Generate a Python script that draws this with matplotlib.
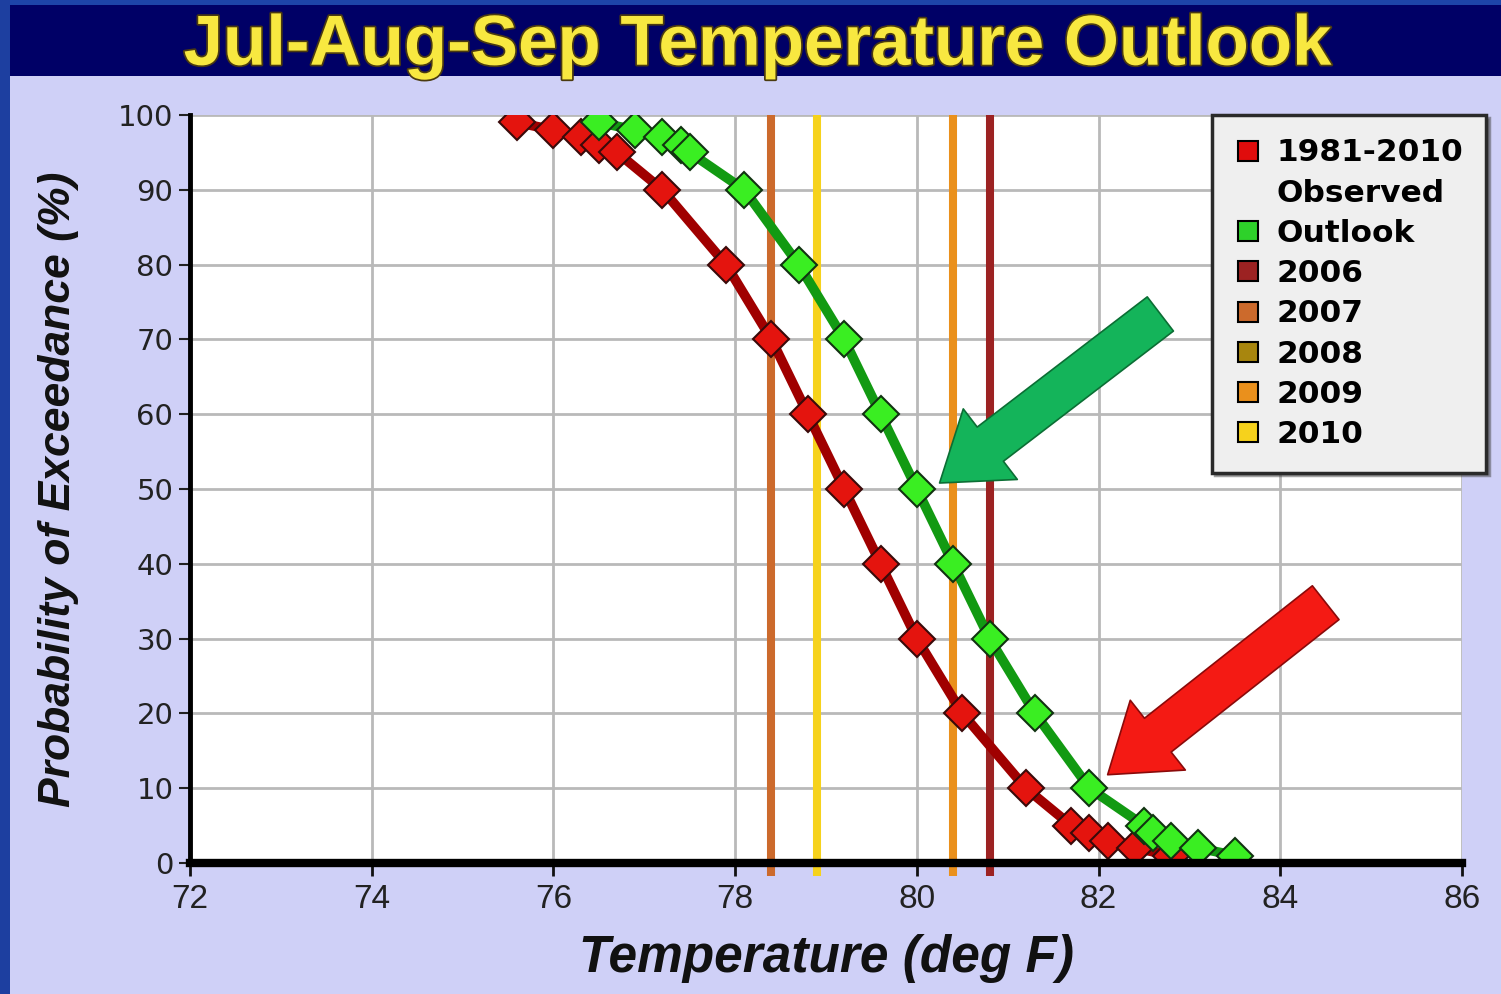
import matplotlib.pyplot as plt
import matplotlib.patheffects as pe
from matplotlib.lines import Line2D
from matplotlib.patches import FancyArrowPatch, ArrowStyle, Rectangle

# observed 1981-2010 exceedance curve
obs_temp = [75.6, 76.0, 76.3, 76.5, 76.7, 77.2, 77.9, 78.4, 78.8, 79.2, 79.6, 80.0,
            80.5, 81.2, 81.7, 81.9, 82.1, 82.4, 82.8]
obs_prob = [99, 98, 97, 96, 95, 90, 80, 70, 60, 50, 40, 30, 20, 10, 5, 4, 3, 2, 1]

# outlook exceedance curve
out_temp = [76.5, 76.9, 77.2, 77.4, 77.5, 78.1, 78.7, 79.2, 79.6, 80.0, 80.4, 80.8,
            81.3, 81.9, 82.5, 82.6, 82.8, 83.1, 83.5]
out_prob = [99, 98, 97, 96, 95, 90, 80, 70, 60, 50, 40, 30, 20, 10, 5, 4, 3, 2, 1]

# observed seasonal temps for recent years (2008 not visible on the chart)
years = ["2006", "2007", "2008", "2009", "2010"]
year_temp = [80.8, 78.4, None, 80.4, 78.9]
year_color = ["#9c2222", "#cc6a2c", "#a8860e", "#ea901c", "#f6d21c"]

x_ticks = [72, 74, 76, 78, 80, 82, 84, 86]
y_ticks = [0, 10, 20, 30, 40, 50, 60, 70, 80, 90, 100]

# annotation arrows (tail -> tip, data coords)
green_arrow = ((82.68, 73.4), (80.25, 50.8))
red_arrow = ((84.5, 34.8), (82.1, 11.8))

LAVENDER = "#cfd0f7"

fig = plt.figure(figsize=(15.01, 9.94), dpi=100, facecolor=LAVENDER)

# title banner
fig.patches.append(Rectangle((0, 0.924), 1, 0.076, transform=fig.transFigure,
                             facecolor="#000066", edgecolor="none", zorder=0))
fig.patches.append(Rectangle((0, 0.995), 1, 0.005, transform=fig.transFigure,
                             facecolor="#1d44a8", edgecolor="none", zorder=1))
fig.patches.append(Rectangle((0, 0), 0.0067, 1, transform=fig.transFigure,
                             facecolor="#1d3fa0", edgecolor="none", zorder=1))
fig.text(0.505, 0.953, "Jul-Aug-Sep Temperature Outlook", ha="center", va="center",
         fontsize=51, fontweight="bold", color="#f8e840", family="Liberation Sans",
         path_effects=[pe.withStroke(linewidth=2.5, foreground="#4a3a10")])

ax = fig.add_axes([0.1266, 0.1318, 0.8474, 0.7525])
ax.set_facecolor("white")

for yr, t, c in zip(years, year_temp, year_color):
    if t is not None:
        ax.vlines(t, -1.8, 100, color=c, linewidth=5.8, zorder=2, clip_on=False)

ax.plot(obs_temp, obs_prob, color="#a00000", linewidth=7, zorder=3,
        marker="D", markersize=18, markerfacecolor="#e4140e",
        markeredgecolor="#3a0a0a", markeredgewidth=1.5)
ax.plot(out_temp, out_prob, color="#129a12", linewidth=7, zorder=4,
        marker="D", markersize=18, markerfacecolor="#3aee22",
        markeredgecolor="#113311", markeredgewidth=1.5)

ax.set_xlim(72, 86)
ax.set_ylim(0, 100)
ax.set_xticks(x_ticks)
ax.set_yticks(y_ticks)
ax.grid(True, color="#b9b9b9", linewidth=2)
ax.set_axisbelow(True)

for s in ["top", "right"]:
    ax.spines[s].set_visible(False)
ax.spines["left"].set_linewidth(3.5)
ax.spines["bottom"].set_linewidth(6)
ax.spines["left"].set_zorder(5)
ax.spines["bottom"].set_zorder(5)

ax.tick_params(axis="y", length=8, width=1.5, color="#222222", pad=4,
               labelsize=21, labelcolor="#222222")
ax.tick_params(axis="x", length=9, width=2, color="#111111", pad=6,
               labelsize=24, labelcolor="#222222")
for lbl in ax.get_yticklabels():
    lbl.set_family("DejaVu Sans")
for lbl in ax.get_xticklabels():
    lbl.set_family("Liberation Sans")

ax.set_xlabel("Temperature (deg F)", fontsize=37, fontweight="bold", style="italic",
              family="Liberation Sans", color="#111111", labelpad=14)
ax.set_ylabel("Probability of Exceedance (%)", fontsize=32, fontweight="bold",
              style="italic", family="Liberation Sans", color="#111111", labelpad=28)

# arrows
for (tail, tip), fc, ec in [(green_arrow, "#14b45a", "#0b6e34"),
                            (red_arrow, "#f41a14", "#8a0a0a")]:
    style = ArrowStyle.Simple(head_length=46, head_width=64, tail_width=31)
    arr = FancyArrowPatch(tail, tip, arrowstyle=style, mutation_scale=1,
                          facecolor=fc, edgecolor=ec, linewidth=1.2, zorder=6,
                          shrinkA=0, shrinkB=0)
    ax.add_patch(arr)

# legend
handles = []
labels = []
handles.append(Line2D([], [], ls="", marker="s", markersize=15,
                      markerfacecolor="#e00c0c", markeredgecolor="black", markeredgewidth=1.5))
labels.append("1981-2010")
handles.append(Line2D([], [], ls="", marker="s", markersize=15, alpha=0))
labels.append("Observed")
handles.append(Line2D([], [], ls="", marker="s", markersize=15,
                      markerfacecolor="#2ed12a", markeredgecolor="black", markeredgewidth=1.5))
labels.append("Outlook")
for yr, c in zip(years, year_color):
    handles.append(Line2D([], [], ls="", marker="s", markersize=15,
                          markerfacecolor=c, markeredgecolor="black", markeredgewidth=1.5))
    labels.append(yr)

leg = fig.legend(handles, labels, loc="upper left", bbox_to_anchor=(0.8075, 0.8843),
                 borderaxespad=0,
                 prop={"family": "DejaVu Sans", "weight": "bold", "size": 22.5},
                 frameon=True, fancybox=False, shadow=True, framealpha=1,
                 facecolor="#efefef", edgecolor="#2a2a2a", labelspacing=0.36,
                 handlelength=0.8, handletextpad=0.5, borderpad=0.75)
leg.get_frame().set_linewidth(2.5)
leg.set_zorder(10)

fig.savefig("out.png", dpi=100, facecolor=LAVENDER)
